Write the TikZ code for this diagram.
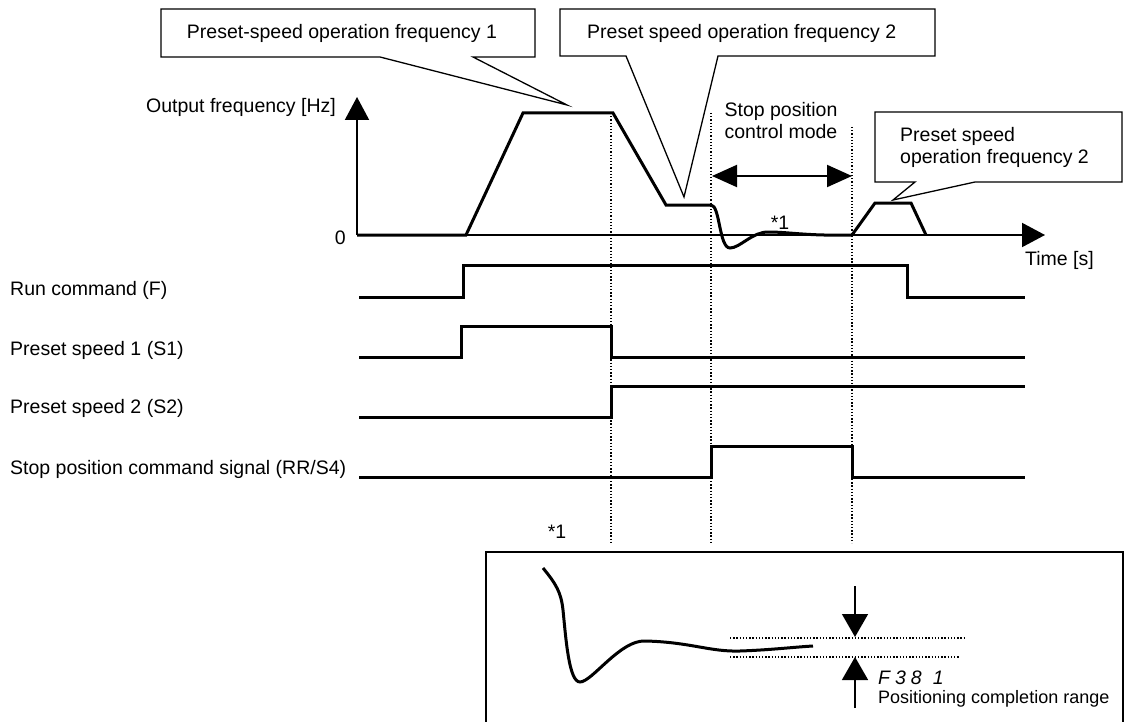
\documentclass[tikz,border=0pt]{standalone}
\usepackage{fontspec}
\setmainfont{Liberation Sans}
\usetikzlibrary{arrows.meta}
\begin{document}
\begin{tikzpicture}[x=1pt,y=-1pt]
\tikzstyle{txt}=[inner sep=0pt, font=\fontsize{19.5}{22}\selectfont]
\tikzstyle{signal}=[line width=3pt, line join=miter]
\tikzstyle{guide}=[line width=1.3pt, dash pattern=on 1.3pt off 1.9pt]
\tikzstyle{callout}=[line width=1.3pt, fill=white]
\tikzstyle{axis}=[line width=2pt, -{Triangle[length=23pt,width=24pt]}]
\tikzstyle{bandarrow}=[line width=1.5pt, -{Triangle[length=23pt,width=26pt]}]
\useasboundingbox (0,0) rectangle (1126,722);

    % callouts
    \draw[callout] (161,9) -- (535,9) -- (535,57) -- (473,57) -- (567,105) -- (380,57) -- (161,57) -- cycle;
    \node[txt] (freq1) at (342,33) {Preset-speed operation frequency 1};
    \draw[callout] (560,9) -- (935,9) -- (935,56) -- (718,56) -- (684,197) -- (626,56) -- (560,56) -- cycle;
    \node[txt, anchor=west] (freq2) at (587,33) {Preset speed operation frequency 2};
    \draw[callout] (875,112) -- (1122,112) -- (1122,182) -- (975,182) -- (893,200) -- (915,182) -- (875,182) -- cycle;
    \node[txt, anchor=west, align=left] (freq3) at (900,147) {Preset speed\\operation frequency 2};

    % guides
    \draw[guide] (611,113) -- (611,543);
    \draw[guide] (711,113) -- (711,543);
    \draw[guide] (852,127) -- (852,543);

    % axes
    \coordinate (O) at (357,235);
    \coordinate (ytop) at (357,97);
    \coordinate (xend) at (1045,235);
    \draw[axis] (O) -- (ytop);
    \draw[axis] (O) -- (xend);
    \node[txt, anchor=east] (ylab) at (336,107) {Output frequency [Hz]};
    \node[txt, anchor=east] (zero) at (346,238) {0};
    \node[txt, anchor=west] (xlab) at (1025,260) {Time [s]};

    % output frequency
    \draw[signal] (O) -- (466,235) -- (523,113) -- (613,113) -- (666,205) -- (711,205)
        .. controls (720,205) and (719,248) .. (730,248)
        .. controls (740,248) and (752,232) .. (768,232)
        .. controls (790,232) and (805,236) .. (852,235)
        -- (875,203) -- (911,203) -- (926,235);
    \node[txt] (note1) at (780,223) {*1};

    % stop position control mode
    \node[txt, align=left] (mode) at (781,121) {Stop position\\control mode};
    \coordinate (ms) at (712,176);
    \coordinate (me) at (852,176);
    \draw[line width=2pt, {Triangle[length=25pt,width=22pt]}-{Triangle[length=25pt,width=22pt]}] (ms) -- (me);

    % signals
    \node[txt, anchor=west] (run) at (10,290) {Run command (F)};
    \node[txt, anchor=west] (s1) at (10,350) {Preset speed 1 (S1)};
    \node[txt, anchor=west] (s2) at (10,408) {Preset speed 2 (S2)};
    \node[txt, anchor=west] (s4) at (10,469) {Stop position command signal (RR/S4)};
    \draw[signal] (359,297) -- (463,297) -- (463,265) -- (907,265) -- (907,297) -- (1025,297);
    \draw[signal] (359,357) -- (461,357) -- (461,326) -- (611,326) -- (611,357) -- (1025,357);
    \draw[signal] (359,417) -- (611,417) -- (611,386) -- (1025,386);
    \draw[signal] (359,477) -- (711,477) -- (711,446) -- (852,446) -- (852,477) -- (1025,477);

    % detail of *1
    \node[txt] (note2) at (557,532) {*1};
    \draw[line width=2pt] (486,722) -- (486,552) -- (1123,552) -- (1123,722);
    \draw[signal] (543,568) .. controls (556,584) and (561,592) .. (563,610)
        .. controls (566,640) and (569,682) .. (580,682)
        .. controls (592,682) and (620,640) .. (645,641)
        .. controls (690,642) and (710,652) .. (740,651)
        .. controls (770,650) and (795,647) .. (813,646);
    \draw[guide] (730,638) -- (965,638);
    \draw[guide] (730,657) -- (960,657);
    \coordinate (rtop) at (855,586);
    \coordinate (rbot) at (855,708);
    \draw[bandarrow] (rtop) -- (855,637);
    \draw[bandarrow] (rbot) -- (855,657);
    \node[txt, anchor=west, font=\fontsize{19.5}{22}\selectfont\itshape] (par) at (878,678) {F\hspace{5pt}3\hspace{5pt}8\hspace{11pt}1};
    \node[txt, anchor=west, font=\fontsize{18}{22}\selectfont] (parlab) at (878,699) {Positioning completion range};

\end{tikzpicture}
\end{document}
